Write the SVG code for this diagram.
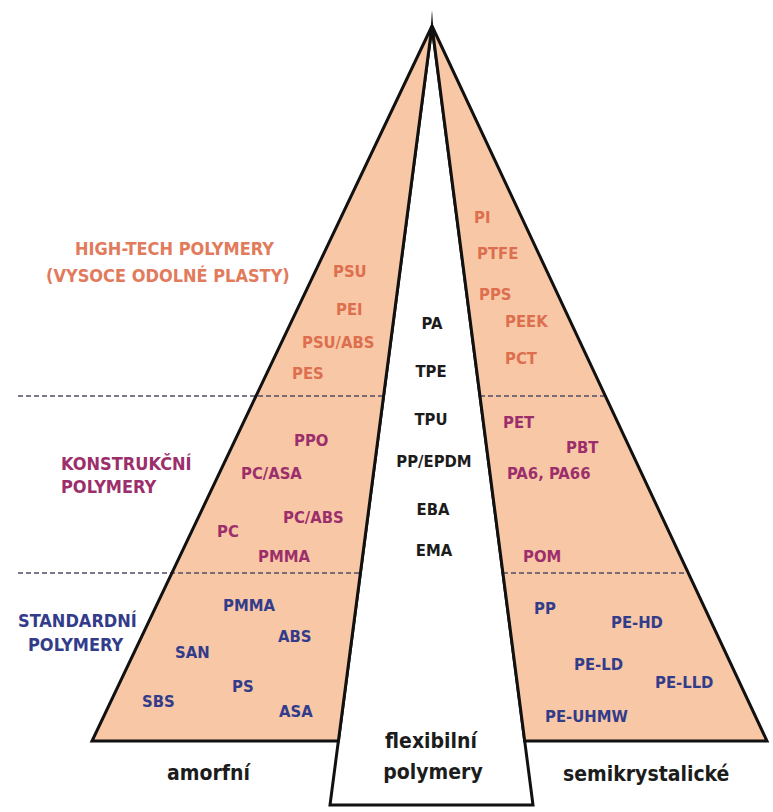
<svg xmlns="http://www.w3.org/2000/svg" width="773" height="812" viewBox="0 0 773 812">
<style>
text{font-family:"DejaVu Sans Condensed","DejaVu Sans",sans-serif;font-weight:bold}
.hd{font-size:18px}
.lb{font-size:16.5px}
.bt{font-size:21px;fill:#1c1c1c}
.or{fill:#DD6F4E}
.ho{fill:#E27A5C}
.pu{fill:#9C2F6B}
.bl{fill:#323C8A}
.bk{fill:#1c1c1c}
.shape{stroke:#111;stroke-width:3;stroke-linejoin:miter}
.dash{stroke:#4d4d66;stroke-width:1.6;stroke-dasharray:5 3;fill:none}
</style>
<rect width="773" height="812" fill="#fff"/>
<g id="center-strip">
<polygon class="shape" fill="#fff" points="432,26 330,805 533,805"/>
</g>
<g id="amorphous">
<polygon fill="#F8C7A6" points="432,26 92,741 338.4,741"/>
</g>
<g id="semicrystalline">
<polygon fill="#F8C7A6" points="432,26 767,741 524.7,741"/>
</g>
<g id="connectors">
<line class="dash" x1="18" y1="396" x2="383.6" y2="396"/>
<line class="dash" x1="480" y1="396" x2="605" y2="396"/>
<line class="dash" x1="18" y1="573" x2="360.4" y2="573"/>
<line class="dash" x1="503" y1="573" x2="688" y2="573"/>
</g>
<g id="outlines" fill="none">
<polygon class="shape" points="432,26 92,741 338.4,741"/>
<polygon class="shape" points="432,26 767,741 524.7,741"/>
<polygon fill="#111" points="430.3,34 432,10 433.7,34"/>
</g>
<g id="high-tech">
<text class="hd ho" x="75" y="255">HIGH-TECH POLYMERY</text>
<text class="hd ho" x="46" y="282">(VYSOCE ODOLNÉ PLASTY)</text>
<text class="lb or" x="333" y="277">PSU</text>
<text class="lb or" x="336" y="315">PEI</text>
<text class="lb or" x="302" y="348">PSU/ABS</text>
<text class="lb or" x="292" y="379">PES</text>
<text class="lb or" x="474" y="223">PI</text>
<text class="lb or" x="477" y="259">PTFE</text>
<text class="lb or" x="479" y="300">PPS</text>
<text class="lb or" x="505" y="327">PEEK</text>
<text class="lb or" x="505" y="364">PCT</text>
</g>
<g id="construction">
<text class="hd pu" x="61" y="470">KONSTRUKČNÍ</text>
<text class="hd pu" x="61" y="493">POLYMERY</text>
<text class="lb pu" x="294" y="446">PPO</text>
<text class="lb pu" x="241" y="479">PC/ASA</text>
<text class="lb pu" x="283" y="523">PC/ABS</text>
<text class="lb pu" x="217" y="537">PC</text>
<text class="lb pu" x="258" y="562">PMMA</text>
<text class="lb pu" x="503" y="428">PET</text>
<text class="lb pu" x="566" y="453">PBT</text>
<text class="lb pu" x="507" y="479">PA6, PA66</text>
<text class="lb pu" x="523" y="562">POM</text>
</g>
<g id="standard">
<text class="hd bl" x="18" y="627">STANDARDNÍ</text>
<text class="hd bl" x="28" y="651">POLYMERY</text>
<text class="lb bl" x="223" y="611">PMMA</text>
<text class="lb bl" x="278" y="642">ABS</text>
<text class="lb bl" x="175" y="658">SAN</text>
<text class="lb bl" x="232" y="692">PS</text>
<text class="lb bl" x="142" y="707">SBS</text>
<text class="lb bl" x="279" y="717">ASA</text>
<text class="lb bl" x="534" y="614">PP</text>
<text class="lb bl" x="611" y="628">PE-HD</text>
<text class="lb bl" x="574" y="670">PE-LD</text>
<text class="lb bl" x="655" y="688">PE-LLD</text>
<text class="lb bl" x="545" y="722">PE-UHMW</text>
</g>
<g id="flexible">
<text class="lb bk" x="432" y="329" text-anchor="middle">PA</text>
<text class="lb bk" x="431" y="377" text-anchor="middle">TPE</text>
<text class="lb bk" x="431" y="425" text-anchor="middle">TPU</text>
<text class="lb bk" x="434" y="467" text-anchor="middle">PP/EPDM</text>
<text class="lb bk" x="433" y="515" text-anchor="middle">EBA</text>
<text class="lb bk" x="434" y="556" text-anchor="middle">EMA</text>
<text class="bt" x="431" y="748" text-anchor="middle">flexibilní</text>
<text class="bt" x="433" y="779" text-anchor="middle">polymery</text>
</g>
<g id="bottom-labels">
<text class="bt" x="167" y="780">amorfní</text>
<text class="bt" x="563" y="781">semikrystalické</text>
</g>
</svg>
